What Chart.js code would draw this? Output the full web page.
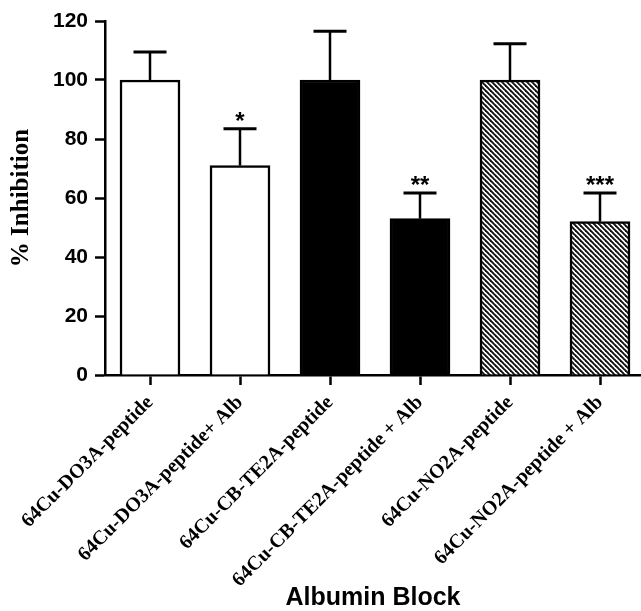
<!DOCTYPE html>
<html><head><meta charset="utf-8">
<script src="https://cdn.jsdelivr.net/npm/chart.js@4.4.1/dist/chart.umd.min.js"></script>
<style>html,body{margin:0;padding:0;background:#fff;overflow:hidden}</style>
</head><body>
<canvas id="c" width="641" height="611"></canvas>
<script>
const categories = [
  '64Cu-DO3A-peptide',
  '64Cu-DO3A-peptide+ Alb',
  '64Cu-CB-TE2A-peptide',
  '64Cu-CB-TE2A-peptide + Alb',
  '64Cu-NO2A-peptide',
  '64Cu-NO2A-peptide + Alb'
];
const meanValues = [100, 71, 100, 53, 100, 52];
const errorValues = [9.5, 12.5, 16.5, 8.7, 12.3, 9.7];
const significance = ['', '*', '', '**', '', '***'];
const fillKinds = ['white', 'white', 'black', 'black', 'hatch', 'hatch'];
const yTickValues = [0, 20, 40, 60, 80, 100, 120];

function makeHatch() {
  const s = 5;
  const p = document.createElement('canvas');
  p.width = s; p.height = s;
  const g = p.getContext('2d');
  g.fillStyle = '#fff';
  g.fillRect(0, 0, s, s);
  g.strokeStyle = '#111';
  g.lineWidth = 1.9;
  for (let k = -1; k <= 1; k++) {
    g.beginPath();
    g.moveTo(-s, -s + k * s);
    g.lineTo(2 * s, 2 * s + k * s);
    g.stroke();
  }
  return g.createPattern(p, 'repeat');
}
const ctx = document.getElementById('c').getContext('2d');
const hatch = makeHatch();
const fills = fillKinds.map(k => k === 'white' ? '#ffffff' : k === 'black' ? '#000000' : hatch);

const errorBars = {
  id: 'errorBars',
  afterDatasetsDraw(chart) {
    const c = chart.ctx;
    const meta = chart.getDatasetMeta(0);
    const ys = chart.scales.y;
    c.save();
    c.strokeStyle = '#000';
    c.fillStyle = '#000';
    meta.data.forEach((bar, i) => {
      const x = bar.x;
      const yTop = ys.getPixelForValue(meanValues[i]);
      const yErr = ys.getPixelForValue(meanValues[i] + errorValues[i]);
      c.lineWidth = 2.5;
      c.beginPath();
      c.moveTo(x, yTop);
      c.lineTo(x, yErr);
      c.stroke();
      c.lineWidth = 3;
      c.beginPath();
      c.moveTo(x - 16.5, yErr);
      c.lineTo(x + 16.5, yErr);
      c.stroke();
      if (significance[i]) {
        c.font = 'bold 24px "Liberation Sans", Arial, sans-serif';
        c.textAlign = 'center';
        c.textBaseline = 'alphabetic';
        c.fillText(significance[i], x, yErr);
      }
    });
    c.restore();
  }
};

new Chart(ctx, {
  type: 'bar',
  data: {
    datasets: [{
      data: meanValues.map((v, i) => ({x: i, y: v})),
      backgroundColor: fills,
      borderColor: '#000',
      borderWidth: 2.5,
      barThickness: 60
    }]
  },
  options: {
    responsive: false,
    animation: false,
    layout: {padding: {top: 21, right: 0, bottom: 0, left: 0}},
    plugins: {legend: {display: false}, tooltip: {enabled: false}},
    scales: {
      x: {
        type: 'linear',
        min: -0.5,
        max: (641 - 105) / 90 - 0.5,
        offset: false,
        afterFit(scale) { scale.height = 611 - 375; },
        grid: {offset: false, drawOnChartArea: false, drawTicks: true, tickLength: 10, tickWidth: 2.5, tickColor: '#000'},
        border: {display: true, color: '#000', width: 2.5},
        afterBuildTicks(scale) { scale.ticks = categories.map((_, i) => ({value: i})); },
        ticks: {
          autoSkip: false,
          minRotation: 45,
          maxRotation: 45,
          padding: 6,
          color: '#000',
          font: {family: '"Liberation Serif", "Times New Roman", serif', weight: 'bold', size: 20},
          callback: (v) => categories[v]
        },
        title: {
          display: true,
          text: 'Albumin Block',
          color: '#000',
          font: {family: '"Liberation Sans", Arial, sans-serif', weight: 'bold', size: 25, lineHeight: 1.0},
          padding: 0
        }
      },
      y: {
        min: 0,
        max: 120,
        afterFit(scale) { scale.width = 105; },
        afterBuildTicks(scale) { scale.ticks = yTickValues.map(v => ({value: v})); },
        grid: {drawOnChartArea: false, drawTicks: true, tickLength: 10, tickWidth: 2.5, tickColor: '#000'},
        border: {display: true, color: '#000', width: 2.5},
        ticks: {
          padding: 7,
          color: '#000',
          font: {family: '"Liberation Sans", Arial, sans-serif', weight: 'bold', size: 21}
        },
        title: {
          display: true,
          text: '% Inhibition',
          color: '#000',
          font: {family: '"Liberation Serif", "Times New Roman", serif', weight: 'bold', size: 25},
          padding: {top: 7, bottom: 0}
        }
      }
    }
  },
  plugins: [errorBars]
});
</script>
</body></html>
